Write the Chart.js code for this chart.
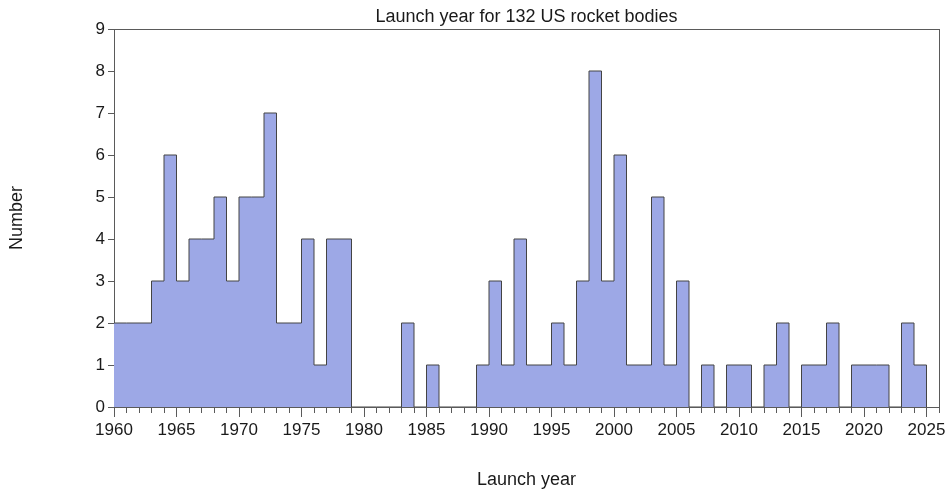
<!DOCTYPE html>
<html>
<head>
<meta charset="utf-8">
<script src="https://cdn.jsdelivr.net/npm/chart.js@4/dist/chart.umd.min.js"></script>
<style>
  html, body { margin: 0; padding: 0; background: #ffffff; }
  canvas { display: block; }
</style>
</head>
<body>
<canvas id="chart" width="950" height="491"></canvas>
<script>
// Launch year of each yearly bin (bin covers [year, year + 1))
const launchYears = [
  1960, 1961, 1962, 1963, 1964, 1965, 1966, 1967, 1968, 1969,
  1970, 1971, 1972, 1973, 1974, 1975, 1976, 1977, 1978, 1979,
  1980, 1981, 1982, 1983, 1984, 1985, 1986, 1987, 1988, 1989,
  1990, 1991, 1992, 1993, 1994, 1995, 1996, 1997, 1998, 1999,
  2000, 2001, 2002, 2003, 2004, 2005, 2006, 2007, 2008, 2009,
  2010, 2011, 2012, 2013, 2014, 2015, 2016, 2017, 2018, 2019,
  2020, 2021, 2022, 2023, 2024
];

// Number of US rocket bodies launched in each year
const bodyCounts = [
  2, 2, 2, 3, 6, 3, 4, 4, 5, 3,
  5, 5, 7, 2, 2, 4, 1, 4, 4, 0,
  0, 0, 0, 2, 0, 1, 0, 0, 0, 1,
  3, 1, 4, 1, 1, 2, 1, 3, 8, 3,
  6, 1, 1, 5, 1, 3, 0, 1, 0, 1,
  1, 0, 1, 2, 0, 1, 1, 2, 0, 1,
  1, 1, 0, 2, 1
];

// Labelled x ticks (every year gets a minor tick)
const yearLabels = [1960, 1965, 1970, 1975, 1980, 1985, 1990, 1995, 2000, 2005, 2010, 2015, 2020, 2025];
const yearAxisMin = 1960;
const yearAxisMax = 2026;

// Y tick labels
const countTicks = [0, 1, 2, 3, 4, 5, 6, 7, 8, 9];

const titleText = 'Launch year for 132 US rocket bodies';
const xTitle = 'Launch year';
const yTitle = 'Number';

// Step outline: one point at the left edge of each bin, then close at the last bin's right edge
const stepPoints = launchYears.map((yr, i) => ({ x: yr, y: bodyCounts[i] }));
stepPoints.push({ x: launchYears[launchYears.length - 1] + 1, y: 0 });

const FONT = 'Liberation Sans, Arial, Helvetica, sans-serif';
const AXIS_COLOR = '#5a5a5a';
const TEXT_COLOR = '#1a1a1a';

new Chart(document.getElementById('chart'), {
  type: 'line',
  data: {
    datasets: [{
      data: stepPoints,
      stepped: 'before',
      fill: 'origin',
      backgroundColor: '#9da8e6',
      borderColor: '#444444',
      borderWidth: 1,
      pointRadius: 0,
      pointHoverRadius: 0,
      tension: 0
    }]
  },
  options: {
    responsive: false,
    animation: false,
    devicePixelRatio: 1,
    events: [],
    layout: { padding: { left: 0, right: 11, top: 0, bottom: 0 } },
    plugins: {
      legend: { display: false },
      tooltip: { enabled: false },
      title: {
        display: true,
        text: titleText,
        fullSize: false,
        color: TEXT_COLOR,
        font: { family: FONT, size: 18, weight: 'normal' },
        padding: { top: 6.7, bottom: 0.7 }
      }
    },
    scales: {
      x: {
        type: 'linear',
        position: 'bottom',
        min: yearAxisMin,
        max: yearAxisMax,
        z: 1,
        afterFit: s => { s.height = 84; },
        afterBuildTicks: s => {
          const t = [];
          for (let v = yearAxisMin; v <= yearAxisMax; v++) t.push({ value: v });
          s.ticks = t;
        },
        border: { display: true, color: AXIS_COLOR, width: 1 },
        grid: {
          drawOnChartArea: false,
          drawTicks: true,
          tickLength: 10,
          tickColor: AXIS_COLOR,
          tickWidth: 1,
          tickBorderDash: ctx => (ctx.tick && yearLabels.includes(ctx.tick.value)) ? [] : [5, 40]
        },
        ticks: {
          autoSkip: false,
          maxRotation: 0,
          minRotation: 0,
          padding: 3,
          color: TEXT_COLOR,
          font: { family: FONT, size: 17 },
          callback: v => yearLabels.includes(v) ? String(v) : ''
        },
        title: {
          display: true,
          text: xTitle,
          color: TEXT_COLOR,
          font: { family: FONT, size: 18 },
          padding: { top: 0, bottom: 0.5 }
        }
      },
      y: {
        type: 'linear',
        position: 'left',
        min: countTicks[0],
        max: countTicks[countTicks.length - 1],
        z: 1,
        afterFit: s => { s.width = 114; },
        afterBuildTicks: s => { s.ticks = countTicks.map(v => ({ value: v })); },
        border: { display: true, color: AXIS_COLOR, width: 1 },
        grid: {
          drawOnChartArea: false,
          drawTicks: true,
          tickLength: 6,
          tickColor: AXIS_COLOR,
          tickWidth: 1
        },
        ticks: {
          padding: 3,
          color: TEXT_COLOR,
          font: { family: FONT, size: 17 }
        },
        title: {
          display: true,
          text: yTitle,
          color: TEXT_COLOR,
          font: { family: FONT, size: 18 },
          padding: { top: 6, bottom: 0 }
        }
      },
      xTop: {
        type: 'linear',
        position: 'top',
        min: yearAxisMin,
        max: yearAxisMax,
        z: 1,
        afterFit: s => { s.height = 0; },
        border: { display: true, color: AXIS_COLOR, width: 1 },
        grid: { display: false, drawTicks: false },
        ticks: { display: false }
      },
      yRight: {
        type: 'linear',
        position: 'right',
        min: countTicks[0],
        max: countTicks[countTicks.length - 1],
        z: 1,
        afterFit: s => { s.width = 0; },
        border: { display: true, color: AXIS_COLOR, width: 1 },
        grid: { display: false, drawTicks: false },
        ticks: { display: false }
      }
    }
  }
});
</script>
</body>
</html>
